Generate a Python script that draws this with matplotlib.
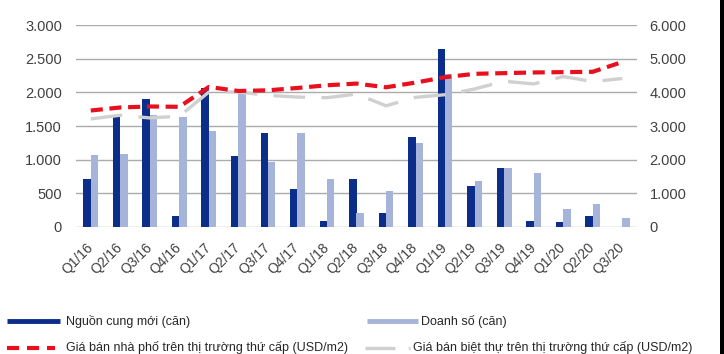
import matplotlib
matplotlib.use("Agg")
import matplotlib.pyplot as plt
from matplotlib.lines import Line2D
from matplotlib.patches import Rectangle
import numpy as np

plt.rcParams['font.family'] = ['Liberation Sans', 'DejaVu Sans']

categories = ["Q1/16", "Q2/16", "Q3/16", "Q4/16", "Q1/17", "Q2/17", "Q3/17", "Q4/17",
              "Q1/18", "Q2/18", "Q3/18", "Q4/18", "Q1/19", "Q2/19", "Q3/19", "Q4/19",
              "Q1/20", "Q2/20", "Q3/20"]
new_supply = [710, 1630, 1900, 170, 2060, 1050, 1400, 560, 85, 710, 210, 1340,
              2650, 610, 880, 85, 70, 170, 0]
sales = [1070, 1090, 1670, 1630, 1420, 1980, 960, 1400, 710, 210, 530, 1250,
         2270, 690, 880, 800, 270, 340, 130]
townhouse_price = [3460, 3550, 3580, 3570, 4160, 4040, 4060, 4130, 4210, 4260, 4150,
                   4290, 4450, 4550, 4570, 4590, 4600, 4610, 4900]
villa_price = [3210, 3320, 3240, 3290, 4010, 4010, 3910, 3860, 3840, 3950, 3600,
               3850, 3930, 4100, 4330, 4250, 4470, 4320, 4410]
left_ticks = [0, 500, 1000, 1500, 2000, 2500, 3000]
right_ticks = [0, 1000, 2000, 3000, 4000, 5000, 6000]

labels_legend = ["Nguồn cung mới (căn)", "Doanh số (căn)",
                 "Giá bán nhà phố trên thị trường thứ cấp (USD/m2)",
                 "Giá bán biệt thự trên thị trường thứ cấp (USD/m2)"]

c_dark = "#0B2E8A"
c_light = "#A7B4DA"
c_red = "#E8101E"
c_gray = "#D0D0D0"
c_text = "#404040"
c_grid = "#ABABAB"

W, H = 724, 354
fig = plt.figure(figsize=(W / 100, H / 100), dpi=100)
ax = fig.add_axes([76 / W, 1 - 227 / H, (637 - 76) / W, (227 - 25) / H])
ax2 = ax.twinx()

x = np.arange(len(categories))
bw = 0.25
ax.bar(x - bw / 2, new_supply, width=bw, color=c_dark, zorder=3)
ax.bar(x + bw / 2, sales, width=bw, color=c_light, zorder=3)

ax.set_xlim(-0.5, len(categories) - 0.5)
ax.set_ylim(0, 3000)
ax.set_yticks(left_ticks)
ax.set_yticklabels([f"{v:,}".replace(",", ".") for v in left_ticks])
ax.grid(axis='y', color=c_grid, linewidth=1.0, zorder=0)
ax.set_axisbelow(True)
for s in ax.spines.values():
    s.set_visible(False)
ax.set_xticks(x)
ax.set_xticklabels(categories, rotation=45, ha='right', va='center',
                   rotation_mode='anchor')
ax.tick_params(axis='x', length=0, pad=13, labelsize=10, labelcolor=c_text)
ax.tick_params(axis='y', length=0, pad=10, labelsize=10.5, labelcolor=c_text)

ax2.plot(x, townhouse_price, color=c_red, linewidth=3.0, dashes=(2.9, 1.6),
         zorder=5, solid_capstyle='butt', dash_capstyle='butt')
ax2.plot(x, villa_price, color=c_gray, linewidth=2.4, dashes=(9.5, 4.9),
         zorder=4, dash_capstyle='butt')
ax2.set_ylim(0, 6000)
ax2.set_yticks(right_ticks)
ax2.set_yticklabels([f"{v:,}".replace(",", ".") for v in right_ticks])
ax2.tick_params(axis='y', length=0, pad=9, labelsize=10.5, labelcolor=c_text)
for s in ax2.spines.values():
    s.set_visible(False)

# legend (manual 2x2 layout)
def fx(px):
    return px / W

def fy(py):
    return 1 - py / H

rows = [321, 348]
fig.add_artist(Line2D([fx(7), fx(60)], [fy(rows[0])] * 2, color=c_dark, linewidth=3.5,
                      solid_capstyle='butt'))
fig.text(fx(66), fy(rows[0]), labels_legend[0], fontsize=9, color="#262626", va='center')
fig.add_artist(Line2D([fx(367), fx(418)], [fy(rows[0])] * 2, color=c_light, linewidth=3.5,
                      solid_capstyle='butt'))
fig.text(fx(421), fy(rows[0]), labels_legend[1], fontsize=9, color="#262626", va='center')
fig.add_artist(Line2D([fx(7), fx(55)], [fy(rows[1])] * 2, color=c_red, linewidth=3.0,
                      dashes=(2.9, 1.9), dash_capstyle='butt'))
fig.text(fx(66), fy(rows[1]), labels_legend[2], fontsize=9, color="#262626", va='center')
fig.add_artist(Line2D([fx(365), fx(410)], [fy(rows[1])] * 2, color=c_gray, linewidth=2.4,
                      dashes=(9.0, 4.0), dash_capstyle='butt'))
fig.text(fx(413), fy(rows[1]), labels_legend[3], fontsize=9, color="#262626", va='center')

# right border
fig.add_artist(Rectangle((fx(720), 0), fx(4), 1, transform=fig.transFigure,
                         color="black", linewidth=0))

fig.savefig("out.png", dpi=100)
